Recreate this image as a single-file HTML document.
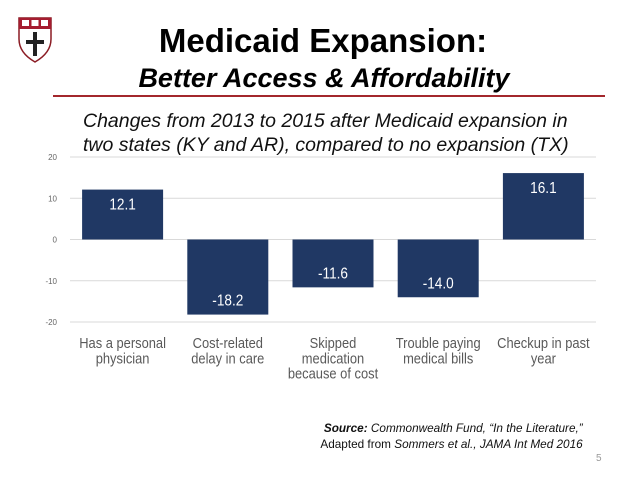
<!DOCTYPE html>
<html><head><meta charset="utf-8"><style>
body{margin:0;width:638px;height:479px;background:#fff;overflow:hidden;position:relative;font-family:"Liberation Sans",sans-serif}
.t{position:absolute;white-space:nowrap}
</style></head><body>
<svg style="position:absolute;left:18px;top:17px" width="34" height="46" viewBox="0 0 34 46">
<path d="M1 1H33V22C33 34 24 41 17 45C10 41 1 34 1 22Z" fill="#fff" stroke="#8b1c24" stroke-width="1.5"/>
<rect x="1" y="1" width="32" height="11" fill="#a51c30"/>
<rect x="4" y="3" width="7" height="6" fill="#fff"/><rect x="13.5" y="3" width="7" height="6" fill="#fff"/><rect x="23" y="3" width="7" height="6" fill="#fff"/>
<path d="M15 15h4v8h7v4h-7v12h-4v-12h-7v-4h7z" fill="#222"/>
</svg>
<div class="t" style="left:0;width:646px;text-align:center;top:22px;font-size:33px;font-weight:bold">Medicaid Expansion:</div>
<div class="t" style="left:0;width:648px;text-align:center;top:63px;font-size:27px;font-weight:bold;font-style:italic">Better Access &amp; Affordability</div>
<div style="position:absolute;left:53px;top:95px;width:552px;height:2px;background:#a3272c"></div>
<div class="t" style="left:83px;top:109px;font-size:19.5px;font-style:italic;line-height:24px;color:#111">Changes from 2013 to 2015 after Medicaid expansion in<br>two states (KY and AR), compared to no expansion (TX)</div>
<svg id="chart" style="position:absolute;left:0;top:0" width="638" height="479"></svg>
<div class="t" style="right:55px;top:421px;font-size:12px;font-style:italic;text-align:right;line-height:15.5px;color:#111;transform:scaleX(0.98);transform-origin:right"><b>Source:</b> Commonwealth Fund, “In the Literature,”<br><span style="font-style:normal">Adapted from </span>Sommers et al., JAMA Int Med 2016</div>
<script>
const categories=[["Has a personal","physician"],["Cost-related","delay in care"],["Skipped","medication","because of cost"],["Trouble paying","medical bills"],["Checkup in past","year"]];
const values=[12.1,-18.2,-11.6,-14.0,16.1];
const valueLabels=["12.1","-18.2","-11.6","-14.0","16.1"];
const ticks=[20,10,0,-10,-20];
const svg=document.getElementById('chart');const NS='http://www.w3.org/2000/svg';
const x0=70,x1=596,yTop=157,yBot=322,vMax=20,vMin=-20;
const y=v=>yTop+(vMax-v)/(vMax-vMin)*(yBot-yTop);
const step=(x1-x0)/categories.length,bw=81;
const cx=i=>x0+step*(i+0.5);
function mk(t,a){const e=document.createElementNS(NS,t);for(const k in a)e.setAttribute(k,a[k]);svg.appendChild(e);return e;}
function squeeze(e,f){const w=e.getComputedTextLength();e.setAttribute('textLength',w*f);e.setAttribute('lengthAdjust','spacingAndGlyphs');}
ticks.forEach(t=>{
 const l=mk('line',{x1:x0,x2:x1,y1:y(t),y2:y(t),stroke:'#d9d9d9','stroke-width':1});
 
 
 const tx=mk('text',{x:57,y:y(t)+3,'text-anchor':'end','font-size':8,fill:'#666'});
 tx.textContent=t;
 
 
});
values.forEach((v,i)=>{
 const top=y(Math.max(v,0)),bot=y(Math.min(v,0));
 const r=mk('rect',{x:cx(i)-bw/2,y:top,width:bw,height:bot-top,fill:'#203864'});
 
 
 const ly=v>=0?top+20:bot-9;
 const t=mk('text',{x:cx(i),y:ly,'text-anchor':'middle','font-size':16,fill:'#fff'});
 t.textContent=valueLabels[i];
 
 
 squeeze(t,0.85);
 categories[i].forEach((line,j)=>{
  const c=mk('text',{x:cx(i),y:348+j*15.3,'text-anchor':'middle','font-size':15,fill:'#595959'});
  c.textContent=line;
  
  
  squeeze(c,0.86);
 });
});
const pn=mk('text',{x:596,y:461,'font-size':10,fill:'#999'});
pn.textContent='5';


</script>
</body></html>
